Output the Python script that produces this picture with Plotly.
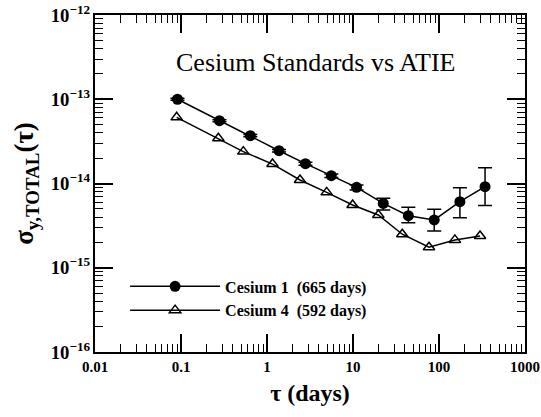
import plotly.graph_objects as go

# Cesium 1 (665 days)
tau1 = [0.091, 0.28, 0.64, 1.38, 2.8, 5.6, 11.0, 22.5, 44, 88, 175, 343]
sig1 = [1.0e-13, 5.57e-14, 3.70e-14, 2.45e-14, 1.72e-14, 1.24e-14, 9.0e-15, 5.8e-15, 4.15e-15, 3.69e-15, 6.08e-15, 9.17e-15]
err1_up = [2.5e-15, 1.5e-15, 1.2e-15, 0.9e-15, 0.7e-15, 0.6e-15, 0.6e-15, 0.87e-15, 1.06e-15, 1.25e-15, 2.82e-15, 6.2e-15]
err1_dn = [2.5e-15, 1.5e-15, 1.2e-15, 0.9e-15, 0.7e-15, 0.6e-15, 0.6e-15, 0.96e-15, 0.72e-15, 0.96e-15, 2.15e-15, 3.7e-15]

# Cesium 4 (592 days)
tau4 = [0.089, 0.272, 0.53, 1.16, 2.42, 4.94, 9.9, 19.7, 37.4, 76.5, 153, 300]
sig4 = [6.1e-14, 3.44e-14, 2.39e-14, 1.70e-14, 1.10e-14, 7.85e-15, 5.56e-15, 4.23e-15, 2.50e-15, 1.75e-15, 2.14e-15, 2.38e-15]

FONT = "Liberation Serif, Times New Roman, serif"

fig = go.Figure()
fig.add_trace(go.Scatter(
    x=tau1, y=sig1, mode="lines+markers", name="Cesium 1  (665 days)",
    line=dict(color="black", width=1.5),
    marker=dict(symbol="circle", size=11, color="black"),
    error_y=dict(type="data", symmetric=False, array=err1_up, arrayminus=err1_dn,
                 color="black", thickness=1.5, width=7),
))
fig.add_trace(go.Scatter(
    x=tau4, y=sig4, mode="lines+markers", name="Cesium 4  (592 days)",
    line=dict(color="black", width=1.5),
    marker=dict(symbol="triangle-up-open", size=10, color="black", line=dict(width=1.5)),
))

axis_common = dict(
    type="log", showgrid=False, zeroline=False, automargin=False,
    showline=True, linecolor="black", linewidth=2, mirror="ticks",
    tickmode="linear", tick0=0, dtick=1, ticklabeloverflow="allow",
    ticks="inside", ticklen=18, tickwidth=1.5, tickcolor="black",
    minor=dict(dtick="D1", ticks="inside", ticklen=8,
               tickwidth=1.2, tickcolor="black", showgrid=False),
)

fig.update_xaxes(
    **axis_common, range=[-2, 3], exponentformat="none",
    tickfont=dict(family=FONT, size=15, color="black", weight="bold"),
    title=dict(text="τ (days)", font=dict(family=FONT, size=24, color="black", weight="bold"), standoff=10),
)
fig.update_yaxes(
    **axis_common, range=[-16, -12], exponentformat="power",
    tickfont=dict(family=FONT, size=15, color="black", weight="bold"),
    title=dict(text="σ<sub>y,TOTAL</sub>(τ)", font=dict(family=FONT, size=27, color="black", weight="bold"), standoff=9),
)

fig.add_annotation(
    text="Cesium Standards vs ATIE", xref="paper", yref="paper", x=0.515, y=0.86,
    xanchor="center", yanchor="middle",
    showarrow=False, font=dict(family=FONT, size=26, color="black"),
)

fig.update_layout(
    width=541, height=417,
    margin=dict(l=95, r=16, t=15, b=65),
    paper_bgcolor="white", plot_bgcolor="white",
    showlegend=True,
    legend=dict(x=0.07, y=0.245, xanchor="left", yanchor="top",
                font=dict(family=FONT, size=16, color="black", weight="bold"),
                bgcolor="rgba(0,0,0,0)", itemwidth=90, tracegroupgap=0),
)

fig.write_html("out.html", config={"displayModeBar": False},
               post_script="document.body.style.margin='0';")
